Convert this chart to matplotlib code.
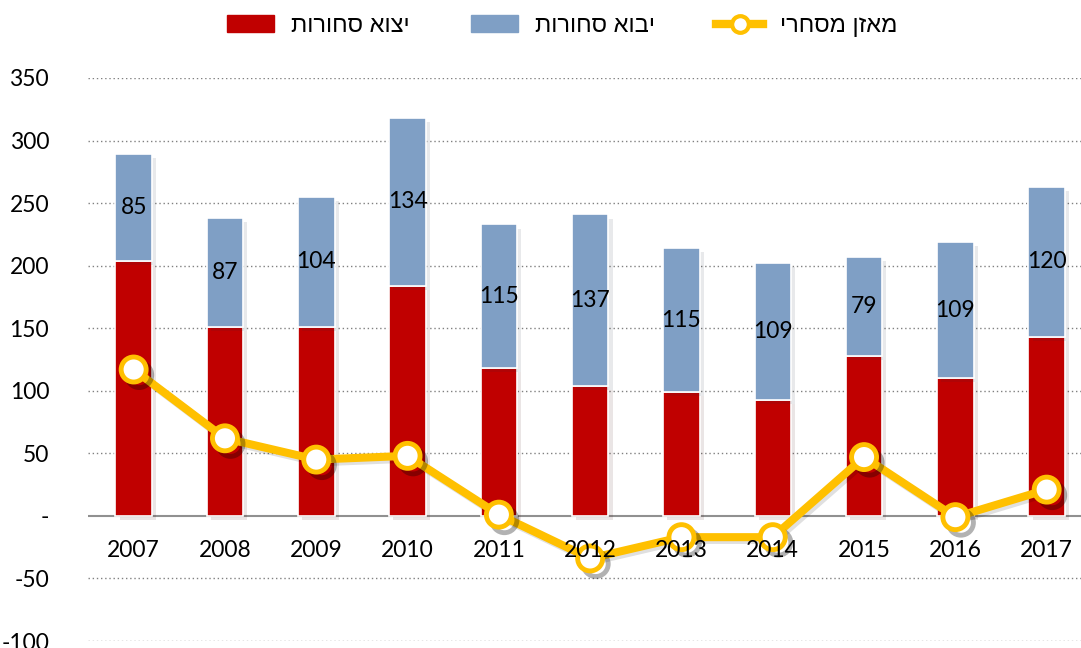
import numpy as np
import matplotlib.pyplot as plt
import matplotlib.patheffects as pe
from matplotlib.lines import Line2D

plt.rcParams['font.family'] = ['Lato', 'DejaVu Sans']

years = ['2007', '2008', '2009', '2010', '2011', '2012', '2013', '2014', '2015', '2016', '2017']
exports = [204, 151, 151, 184, 118, 104, 99, 93, 128, 110, 143]
imports = [85, 87, 104, 134, 115, 137, 115, 109, 79, 109, 120]
balance = [117, 62, 45, 48, 1, -34, -17, -17, 47, -1, 21]
yticks = [-100, -50, 0, 50, 100, 150, 200, 250, 300, 350]
ytick_labels = ['-100', '-50', '-', '50', '100', '150', '200', '250', '300', '350']

lbl_exp = 'יצוא סחורות'
lbl_imp = 'יבוא סחורות'
lbl_bal = 'מאזן מסחרי'


def heb(s):
    # matplotlib has no bidi, so flip the string for right-to-left display
    return s[::-1]


red = '#C00000'
blue = '#7F9FC5'
gold = '#FFC000'
fs = 16.5

fig = plt.figure(figsize=(10.81, 6.48), dpi=100)
ax = fig.add_axes([88 / 1081, 1 - 641 / 648, 1 - 88 / 1081, (641 - 78) / 648])

x = np.arange(len(years))
shadow = [pe.SimplePatchShadow(offset=(3, -3), alpha=0.1), pe.Normal()]
b1 = ax.bar(x, exports, width=0.4, color=red, edgecolor='white', linewidth=1.2, zorder=2)
b2 = ax.bar(x, imports, width=0.4, bottom=exports, color=blue, edgecolor='white',
            linewidth=1.2, zorder=2)
for p in list(b1) + list(b2):
    p.set_path_effects(shadow)

for i in range(len(years)):
    ax.text(x[i], exports[i] + imports[i] / 2, str(imports[i]), ha='center', va='center',
            fontsize=fs, color='black', zorder=3)

ax.plot(x, balance, color=gold, lw=5.8, zorder=4,
        path_effects=[pe.SimpleLineShadow(offset=(2, -2), alpha=0.12), pe.Normal()])
ax.plot(x, balance, ls='none', marker='o', ms=18, mfc='white', mec=gold, mew=3.5, zorder=5,
        path_effects=[pe.SimpleLineShadow(offset=(4, -4), alpha=0.3), pe.Normal()])

ax.axhline(0, color='#909090', lw=1.5, zorder=1)
for t in yticks:
    if t != 0:
        ax.axhline(t, color='#808080', lw=1, ls=(0, (1, 2)), zorder=0)

for i in range(len(years)):
    ax.text(x[i], -28, years[i], ha='center', va='center', fontsize=fs, color='black',
            zorder=6)

ax.set_xlim(-0.5, 10.376)
ax.set_ylim(-100, 350)
ax.set_xticks([])
ax.set_yticks(yticks)
ax.set_yticklabels(ytick_labels, fontsize=fs)
ax.tick_params(axis='y', length=0, pad=28)
for s in ax.spines.values():
    s.set_visible(False)
ax.patch.set_alpha(0)

h_exp = plt.Rectangle((0, 0), 1, 1, color=red)
h_imp = plt.Rectangle((0, 0), 1, 1, color=blue)
h_bal = Line2D([], [], color=gold, lw=6, marker='o', ms=12, mfc='white', mec=gold, mew=3)
fig.legend(handles=[h_exp, h_imp, h_bal], labels=[heb(lbl_exp), heb(lbl_imp), heb(lbl_bal)],
           loc='upper center', bbox_to_anchor=(0.52, 1.01), ncol=3, frameon=False,
           prop={'family': ['Liberation Sans', 'DejaVu Sans'], 'size': 17},
           handlelength=2.0, handleheight=0.7, columnspacing=2.6, handletextpad=0.7)

fig.savefig('out.png', dpi=100)
